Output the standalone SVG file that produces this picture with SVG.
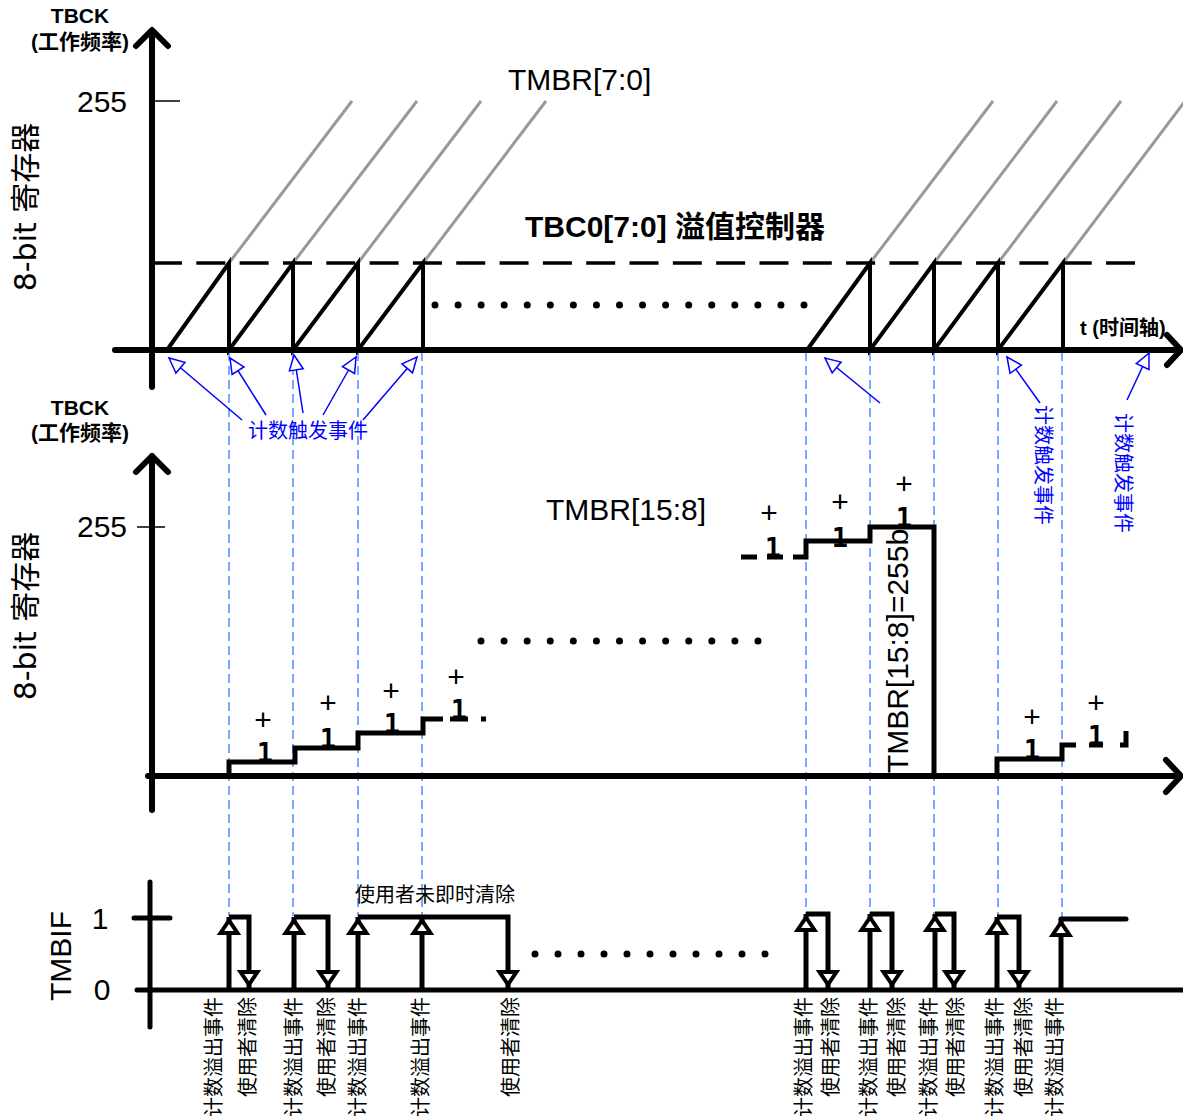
<svg xmlns="http://www.w3.org/2000/svg" width="1183" height="1120" viewBox="0 0 1183 1120">
<defs>
<style>
.ax{stroke:#000;stroke-width:6;fill:none;stroke-linecap:round;stroke-linejoin:round}
.ax5{stroke:#000;stroke-width:5;fill:none;stroke-linecap:round}
.tick{stroke:#000;stroke-width:1.5}
.saw{stroke:#000;stroke-width:4;fill:none;stroke-linejoin:miter}
.gray{stroke:#999;stroke-width:3;fill:none}
.dash{stroke:#000;stroke-width:3.5;stroke-dasharray:29 14.32;fill:none}
.dots{stroke:#000;stroke-width:7;stroke-linecap:round;fill:none}
.guide{stroke:#2f7dff;stroke-width:1.3;stroke-dasharray:9 5;fill:none}
.blu{stroke:#0000ff;stroke-width:1.5;fill:none;marker-end:url(#ob)}
.step{stroke:#000;stroke-width:5;fill:none;stroke-linejoin:miter}
.rise{stroke:#000;stroke-width:5;fill:none;marker-end:url(#bk)}
.fall{stroke:#000;stroke-width:5;fill:none;stroke-linejoin:miter;marker-end:url(#bk)}
text{font-family:"Liberation Sans","Noto Sans CJK SC",sans-serif;fill:#000}
.b{font-weight:bold}
.lbl20{font-size:20px}
.tb{font-size:21px}
.big{font-size:30px}
.reg{font-family:"DejaVu Sans","Noto Sans CJK SC",sans-serif;font-size:30px}
.pl{font-size:30px;text-anchor:middle}
.one{font-family:"DejaVu Sans Mono",monospace;font-size:27px;font-weight:bold;text-anchor:middle}
.bt{fill:#0000ff;font-size:20px}
.ev{font-size:20px;text-anchor:end}
</style>
<marker id="ob" viewBox="-3 -3 22 20" refX="15" refY="7" markerWidth="22" markerHeight="20" markerUnits="userSpaceOnUse" orient="auto" overflow="visible"><path d="M0,0 L15,7 L0,14 Z" fill="#fff" stroke="#0000ff" stroke-width="1.5"/></marker>
<marker id="bk" viewBox="-4 -4 26 26" refX="16" refY="8.5" markerWidth="26" markerHeight="26" markerUnits="userSpaceOnUse" orient="auto" overflow="visible"><path d="M0,0 L12.5,8.5 L0,17 Z" fill="#fff" stroke="#000" stroke-width="4" stroke-linejoin="miter"/></marker>
</defs>
<rect width="1183" height="1120" fill="#fff"/>

<g id="guides">
<path class="guide" d="M229,352 V916 M293,352 V916 M358,352 V916 M422,352 V916 M806,352 V914 M870,352 V914 M934,352 V914 M998,352 V916 M1062,352 V918"/>
</g>

<g id="top-panel">
<g id="top-labels">
<text class="b tb" x="80" y="23" text-anchor="middle">TBCK</text>
<text class="b tb" x="80" y="49" text-anchor="middle">(工作频率)</text>
<text class="big" x="77" y="112">255</text>
<text class="reg" transform="translate(35.5,207) rotate(-90)" text-anchor="middle">8-bit 寄存器</text>
<text class="big" x="508" y="90">TMBR[7:0]</text>
<text class="big b" x="525" y="237">TBC0[7:0] 溢值控制器</text>
<text class="b lbl20" x="1080" y="335">t (时间轴)</text>
</g>
<g id="top-gray">
<path class="gray" d="M229,263 L352,101 M293,263 L417,101 M358,263 L481,101 M423,263 L546,101 M870,263 L993,101 M934,263 L1057,101 M998,263 L1121,101 M1063,263 L1185,101"/>
</g>
<path id="overflow-level" class="dash" d="M153,263 H1135"/>
<path id="top-dots" class="dots" stroke-dasharray="0 23.0625" d="M435,305 H805"/>
<path id="saw-left" class="saw" d="M167,350 L229,263 V350 L293,263 V350 L358,263 V350 L423,263 V350"/>
<path id="saw-right" class="saw" d="M807,350 L870,263 V350 L934,263 V350 L998,263 V350 L1063,263 V350"/>
<g id="top-axes">
<path class="tick" d="M152,101 H180"/>
<path class="ax" d="M152,387 V31 M136,46 L152,30 L168,46"/>
<path class="ax" d="M115,350 H1180 M1167,335 L1181,350 L1167,365"/>
</g>
</g>

<g id="trigger-events">
<text class="bt" x="248" y="438">计数触发事件</text>
<text class="bt" transform="translate(1035.5,405) rotate(90)">计数触发事件</text>
<text class="bt" transform="translate(1115.5,413) rotate(90)">计数触发事件</text>
</g>

<g id="connectors">
<path class="blu" d="M242,420 L169,358"/>
<path class="blu" d="M266,415 L230,358"/>
<path class="blu" d="M303,413 L294,355"/>
<path class="blu" d="M323,415 L356,357"/>
<path class="blu" d="M363,420 L417,357"/>
<path class="blu" d="M880,403 L825,358"/>
<path class="blu" d="M1040,403 L1007,357"/>
<path class="blu" d="M1127,400 L1149,353"/>
</g>

<g id="middle-panel">
<g id="mid-labels">
<text class="b tb" x="80" y="415" text-anchor="middle">TBCK</text>
<text class="b tb" x="80" y="440" text-anchor="middle">(工作频率)</text>
<text class="big" x="77" y="537">255</text>
<text class="reg" transform="translate(35.5,616) rotate(-90)" text-anchor="middle">8-bit 寄存器</text>
<text class="big" x="546" y="520">TMBR[15:8]</text>
<text class="big" transform="translate(908,651) rotate(-90)" text-anchor="middle" font-size="29">TMBR[15:8]=255b</text>
</g>
<path id="mid-dots" class="dots" stroke-dasharray="0 23.083" d="M481,641 H759"/>
<g id="stairs">
<path class="step" d="M229,776 V762 H295 V748 H358 V733 H423 V719 H443"/>
<path class="step" d="M450,719 H468 M481,719 H486"/>
<path class="step" d="M741,557 H757 M767,557 H783"/>
<path class="step" d="M793,557 H806 V541 H870 V527 H934 V776"/>
<path class="step" d="M997,776 V759 H1062 V745 H1076 M1089,745 H1103"/>
<path class="step" d="M1120,745 H1126 V731"/>
</g>
<g id="plus-one">
<text class="pl" x="263" y="730">+</text><text class="one" x="265" y="762">1</text>
<text class="pl" x="328" y="713">+</text><text class="one" x="328" y="748">1</text>
<text class="pl" x="391" y="701">+</text><text class="one" x="392" y="733">1</text>
<text class="pl" x="456" y="687">+</text><text class="one" x="459" y="719">1</text>
<text class="pl" x="769" y="523">+</text><text class="one" x="773" y="557">1</text>
<text class="pl" x="840" y="512">+</text><text class="one" x="840" y="547">1</text>
<text class="pl" x="904" y="494">+</text><text class="one" x="904" y="527">1</text>
<text class="pl" x="1032" y="727">+</text><text class="one" x="1032" y="759">1</text>
<text class="pl" x="1096" y="713">+</text><text class="one" x="1096" y="745">1</text>
</g>
<g id="mid-axes">
<path class="tick" d="M137,527 H165"/>
<path class="ax" d="M152,810 V456 M136,472 L152,456 L168,472"/>
<path class="ax" d="M148,776 H1180 M1166,760 L1181,776 L1166,792"/>
</g>
</g>

<g id="tmbif-panel">
<g id="tmbif-labels">
<text class="big" transform="translate(71,956) rotate(-90)" text-anchor="middle">TMBIF</text>
<text class="big" x="100" y="929" text-anchor="middle">1</text>
<text class="big" x="102" y="1000" text-anchor="middle">0</text>
<text class="lbl20" x="355" y="902">使用者未即时清除</text>
</g>
<path id="bot-dots" class="dots" stroke-dasharray="0 23" d="M535,954 H766"/>
<g id="pulses">
<path class="rise" d="M229,990 V917"/><path class="fall" d="M229,917 H249 V988"/>
<path class="rise" d="M294,990 V917"/><path class="fall" d="M294,917 H328 V988"/>
<path class="rise" d="M358,990 V917"/><path class="rise" d="M422,990 V917"/><path class="fall" d="M358,917 H508 V988"/>
<path class="rise" d="M806,990 V914"/><path class="fall" d="M806,914 H828 V988"/>
<path class="rise" d="M870,990 V914"/><path class="fall" d="M870,914 H892 V988"/>
<path class="rise" d="M935,990 V914"/><path class="fall" d="M935,914 H954 V988"/>
<path class="rise" d="M997,990 V917"/><path class="fall" d="M997,917 H1019 V988"/>
<path class="rise" d="M1061,990 V919"/><path class="ax5" d="M1061,919 H1126"/>
</g>
<g id="tmbif-axes">
<path class="ax5" d="M150,882 V1027 M134,918 H170"/>
<path class="ax5" d="M137,990 H1183"/>
</g>
<g id="event-labels">
<text class="ev" transform="translate(220.5,997) rotate(-90)">计数溢出事件</text>
<text class="ev" transform="translate(254.5,997) rotate(-90)">使用者清除</text>
<text class="ev" transform="translate(300.5,997) rotate(-90)">计数溢出事件</text>
<text class="ev" transform="translate(333.5,997) rotate(-90)">使用者清除</text>
<text class="ev" transform="translate(365,997) rotate(-90)">计数溢出事件</text>
<text class="ev" transform="translate(428,997) rotate(-90)">计数溢出事件</text>
<text class="ev" transform="translate(517.5,997) rotate(-90)">使用者清除</text>
<text class="ev" transform="translate(810.5,997) rotate(-90)">计数溢出事件</text>
<text class="ev" transform="translate(837.5,997) rotate(-90)">使用者清除</text>
<text class="ev" transform="translate(876,997) rotate(-90)">计数溢出事件</text>
<text class="ev" transform="translate(903.5,997) rotate(-90)">使用者清除</text>
<text class="ev" transform="translate(936,997) rotate(-90)">计数溢出事件</text>
<text class="ev" transform="translate(963,997) rotate(-90)">使用者清除</text>
<text class="ev" transform="translate(1002,997) rotate(-90)">计数溢出事件</text>
<text class="ev" transform="translate(1030.5,997) rotate(-90)">使用者清除</text>
<text class="ev" transform="translate(1061.5,997) rotate(-90)">计数溢出事件</text>
</g>
</g>
</svg>
